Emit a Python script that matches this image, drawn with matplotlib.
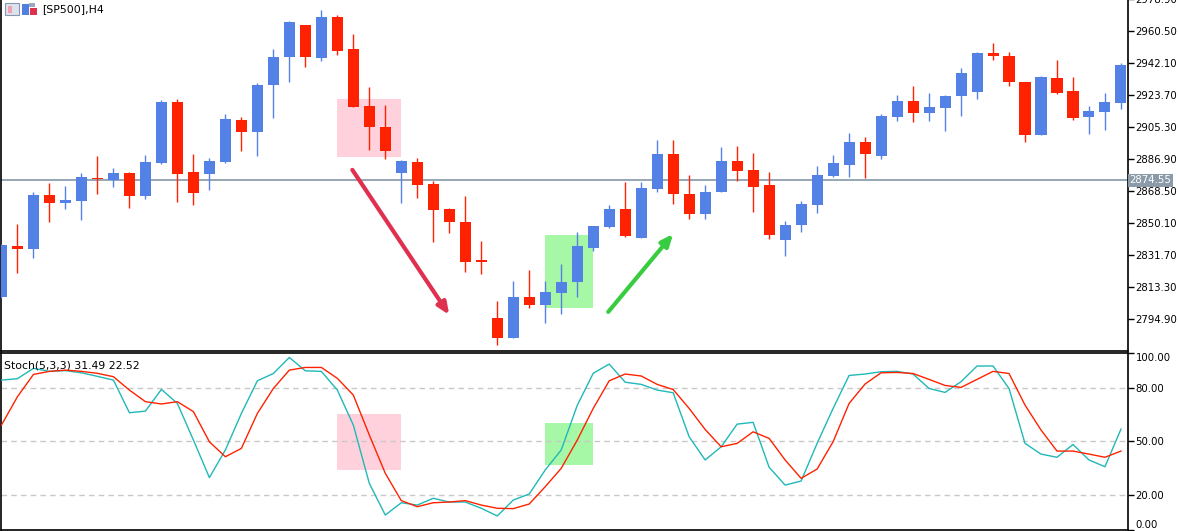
import matplotlib
matplotlib.use('Agg')
from matplotlib import pyplot as plt
from matplotlib.patches import Rectangle
import matplotlib.transforms as mtransforms

# H4 candles, SP500
opens = [2807.5, 2836.9, 2835.2, 2866.2, 2861.6, 2862.8, 2876.0, 2874.8, 2878.9, 2865.6,
         2884.6, 2919.7, 2879.4, 2878.3, 2885.2, 2909.3, 2902.4, 2929.5, 2945.6, 2964.0,
         2945.0, 2968.6, 2950.2, 2917.4, 2905.3, 2878.9, 2885.2, 2872.5, 2858.2, 2850.7,
         2828.8, 2795.5, 2784.0, 2807.6, 2803.0, 2809.9, 2816.2, 2835.7, 2847.8, 2858.2,
         2841.5, 2869.7, 2889.8, 2866.8, 2855.3, 2867.9, 2885.8, 2880.6, 2872.0, 2840.3,
         2849.0, 2860.5, 2877.1, 2883.5, 2896.7, 2888.6, 2911.1, 2920.3, 2913.4, 2916.2,
         2923.1, 2925.4, 2947.9, 2946.1, 2931.2, 2900.7, 2933.5, 2926.0, 2911.1, 2913.9,
         2919.1]
highs = [2838.0, 2849.5, 2867.9, 2873.1, 2871.4, 2878.9, 2888.6, 2881.7, 2879.2, 2889.2,
         2920.8, 2921.4, 2889.8, 2887.5, 2912.8, 2911.1, 2930.6, 2950.2, 2966.2, 2964.2,
         2972.6, 2969.7, 2958.8, 2928.3, 2918.0, 2886.2, 2887.5, 2874.3, 2858.7, 2865.6,
         2839.8, 2805.3, 2816.8, 2823.1, 2816.8, 2826.5, 2844.9, 2848.6, 2860.5, 2873.7,
         2873.7, 2897.8, 2897.8, 2877.7, 2872.0, 2893.8, 2894.4, 2890.4, 2879.4, 2851.3,
         2862.8, 2882.9, 2889.2, 2901.9, 2899.6, 2912.8, 2923.7, 2928.9, 2924.8, 2923.7,
         2939.2, 2948.4, 2953.6, 2948.4, 2931.4, 2934.6, 2943.8, 2934.1, 2917.4, 2924.8,
         2942.1]
lows = [2807.0, 2821.4, 2830.0, 2850.7, 2858.2, 2851.8, 2866.8, 2870.8, 2858.7, 2863.9,
        2884.0, 2862.2, 2860.5, 2869.1, 2884.8, 2891.5, 2888.6, 2910.5, 2931.2, 2939.8,
        2943.3, 2946.7, 2916.5, 2892.1, 2886.9, 2861.6, 2864.5, 2839.2, 2844.3, 2821.9,
        2820.8, 2780.0, 2783.8, 2801.2, 2792.6, 2797.8, 2807.6, 2834.0, 2847.2, 2842.0,
        2841.3, 2867.9, 2861.0, 2852.4, 2852.4, 2867.6, 2874.3, 2856.4, 2840.9, 2831.1,
        2844.9, 2855.9, 2876.6, 2876.6, 2876.0, 2886.9, 2908.7, 2908.2, 2908.7, 2903.0,
        2911.6, 2921.4, 2943.8, 2928.9, 2896.7, 2900.4, 2924.3, 2909.3, 2901.3, 2903.6,
        2915.7]
closes = [2837.4, 2835.2, 2866.2, 2861.6, 2863.3, 2876.6, 2875.4, 2878.9, 2865.6, 2885.2,
          2919.7, 2878.3, 2867.4, 2885.8, 2909.9, 2902.4, 2929.5, 2945.6, 2965.7, 2945.6,
          2968.6, 2949.0, 2916.8, 2905.3, 2891.5, 2885.8, 2872.0, 2857.6, 2850.7, 2827.7,
          2827.7, 2784.0, 2807.6, 2803.0, 2810.4, 2816.2, 2836.9, 2848.4, 2858.2, 2842.6,
          2870.2, 2889.8, 2866.8, 2855.3, 2868.0, 2885.8, 2880.0, 2870.8, 2843.2, 2849.0,
          2861.0, 2877.7, 2884.6, 2896.7, 2889.8, 2911.6, 2920.3, 2913.4, 2916.8, 2923.1,
          2936.4, 2947.9, 2946.1, 2931.2, 2900.7, 2934.1, 2924.8, 2910.5, 2914.5, 2919.7,
          2941.0]

# Stochastic(5,3,3): main (%K) and signal (%D)
stoch_k = [84.2, 85.0, 90.8, 89.1, 89.5, 88.3, 86.3, 84.2, 65.9, 66.8,
           79.0, 71.1, 50.6, 29.5, 45.0, 65.5, 83.8, 87.9, 96.9, 89.4,
           89.1, 78.6, 59.0, 26.3, 8.5, 15.4, 14.1, 17.9, 15.8, 15.8,
           12.3, 8.0, 16.9, 20.3, 33.8, 45.0, 70.0, 88.0, 93.2, 83.0,
           81.8, 78.6, 77.1, 52.4, 39.4, 46.8, 59.5, 60.5, 35.3, 25.3,
           27.6, 48.7, 68.3, 86.8, 87.6, 88.9, 89.1, 87.6, 79.5, 77.3,
           83.3, 92.1, 92.1, 79.5, 48.7, 42.7, 40.9, 48.1, 39.4, 35.6,
           56.7]
stoch_d = [59.0, 74.9, 87.4, 89.1, 89.8, 89.1, 88.0, 86.1, 78.6, 72.1,
           70.8, 72.1, 66.5, 49.6, 41.2, 45.9, 65.5, 79.5, 89.8, 91.3,
           91.3, 85.2, 75.8, 53.4, 31.9, 16.6, 13.2, 15.4, 15.8, 16.6,
           14.1, 12.3, 12.1, 14.7, 24.4, 34.7, 50.5, 68.3, 83.8, 87.6,
           86.5, 81.8, 78.9, 68.3, 56.5, 46.8, 48.7, 55.2, 51.5, 39.4,
           29.1, 34.3, 49.6, 71.1, 82.0, 88.3, 88.5, 87.9, 84.6, 81.2,
           80.1, 84.6, 89.1, 87.9, 70.2, 56.2, 44.4, 44.4, 42.7, 40.9,
           44.4]

price_ticks = [2794.90, 2813.30, 2831.70, 2850.10, 2868.50, 2886.90,
               2905.30, 2923.70, 2942.10, 2960.50, 2978.90]
stoch_levels = [20, 50, 80]
stoch_ticks = [0, 20, 50, 80, 99.4]
stoch_tick_labels = ['0.00', '20.00', '50.00', '80.00', '100.00']
bid = 2874.55

# marked zones: (first bar, last bar, price/value low, price/value high)
sell_zone = (21.0, 25.0, 2888.1, 2921.4)
buy_zone = (34.0, 37.0, 2801.2, 2843.2)
sell_zone_stoch = (21.0, 25.0, 33.9, 65.0)
buy_zone_stoch = (34.0, 37.0, 36.7, 59.9)
sell_arrow = ((21.94, 2880.6), (28.0, 2797.2))
buy_arrow = ((37.94, 2798.9), (42.0, 2843.8))

BLUE = '#5381E6'
RED = '#FF2200'
TEAL = '#20B8B8'
PINK = '#FFD1DC'
LGREEN = '#A6F7A6'
LABEL_SIZE = 7.3

W, H = 1178, 531


def frac(x0, y0, x1, y1):
    return [x0 / W, 1 - y1 / H, (x1 - x0) / W, (y1 - y0) / H]


fig = plt.figure(figsize=(W / 100, H / 100), dpi=100)
fig.patch.set_facecolor('white')

ax = fig.add_axes(frac(1, -1, 1128, 350.5))
ax2 = fig.add_axes(frac(1, 353, 1128, 530.2))

n = len(opens)
xlim = (-0.03, 70.44)

# ---- price panel
for r, col in ((sell_zone, PINK), (buy_zone, LGREEN)):
    ax.add_patch(Rectangle((r[0], r[2]), r[1] - r[0], r[3] - r[2],
                           facecolor=col, edgecolor='none', zorder=1))
ax.axhline(bid, color='#8497A8', lw=1.2, zorder=2)
for i in range(n):
    col = BLUE if closes[i] > opens[i] else RED
    ax.vlines(i, lows[i], highs[i], color=col, lw=1.0, zorder=3)
    h = closes[i] - opens[i]
    if abs(h) < 0.6:
        h = 0.6 if h >= 0 else -0.6
    ax.bar(i, h, bottom=opens[i], width=0.69, color=col, linewidth=0, zorder=4)

for (s, e), col in ((sell_arrow, '#E0304F'), (buy_arrow, '#38CC40')):
    ax.annotate('', xy=e, xytext=s,
                arrowprops=dict(arrowstyle='-|>,head_length=0.7,head_width=0.3',
                                color=col, lw=3, shrinkA=0, shrinkB=0), zorder=5)

ax.set_xlim(*xlim)
ax.set_ylim(2776.7, 2978.9)
ax.set_xticks([])
ax.yaxis.tick_right()
ax.set_yticks(price_ticks)
ax.set_yticklabels(['%.2f' % t for t in price_ticks])
ax.tick_params(axis='y', length=4, width=1, pad=1.5, labelsize=LABEL_SIZE, colors='black')
ax.spines['top'].set_visible(False)
for s in ('left', 'right', 'bottom'):
    ax.spines[s].set_linewidth(1.2)

trans = mtransforms.blended_transform_factory(ax.transAxes, ax.transData)
ax.text(1.0015, bid, '%.2f' % bid, transform=trans, ha='left', va='center',
        fontsize=LABEL_SIZE, color='white',
        bbox=dict(facecolor='#8C9BAA', edgecolor='none', pad=1.2), zorder=10)

# chart caption with small window icons
fig.text(42 / W, 1 - 9 / H, '[SP500],H4', fontsize=7.8, va='center', ha='left')
icon = [(5, 3, 14, 12, '#DDE3EE', '#8896B0'), (8, 6, 4, 7, '#F4A0B0', 'none'),
        (22, 4, 7, 11, '#4F7FDF', 'none'), (29, 3, 6, 4, '#9AA8C0', 'none'),
        (30, 8, 7, 7, '#E0304F', 'none')]
for x0, y0, w, h, fc, ec in icon:
    fig.patches.append(Rectangle((x0 / W, 1 - (y0 + h) / H), w / W, h / H,
                                 transform=fig.transFigure, facecolor=fc,
                                 edgecolor=ec, lw=0.8))

# ---- stochastic panel
for r, col in ((sell_zone_stoch, PINK), (buy_zone_stoch, LGREEN)):
    ax2.add_patch(Rectangle((r[0], r[2]), r[1] - r[0], r[3] - r[2],
                            facecolor=col, edgecolor='none', zorder=1))
for lv in stoch_levels:
    ax2.axhline(lv, color='#C8C8C8', lw=1, ls=(0, (4, 3)), zorder=2)
xs = list(range(n))
ax2.plot(xs, stoch_k, color=TEAL, lw=1.0, zorder=3)
ax2.plot(xs, stoch_d, color=RED, lw=1.0, zorder=4)
ax2.set_xlim(*xlim)
ax2.set_ylim(0, 99.4)
ax2.set_xticks([])
ax2.yaxis.tick_right()
ax2.set_yticks(stoch_ticks)
ax2.set_yticklabels(stoch_tick_labels)
ax2.tick_params(axis='y', length=4, width=1, pad=1.5, labelsize=LABEL_SIZE, colors='black')
labels = ax2.get_yticklabels()
labels[0].set_va('bottom')
labels[-1].set_va('top')
for s in ax2.spines.values():
    s.set_linewidth(1.2)
ax2.text(0.003, 0.93, 'Stoch(5,3,3) 31.49 22.52', transform=ax2.transAxes,
         fontsize=7.8, va='center', ha='left')

fig.savefig('out.png', dpi=100, facecolor='white')
